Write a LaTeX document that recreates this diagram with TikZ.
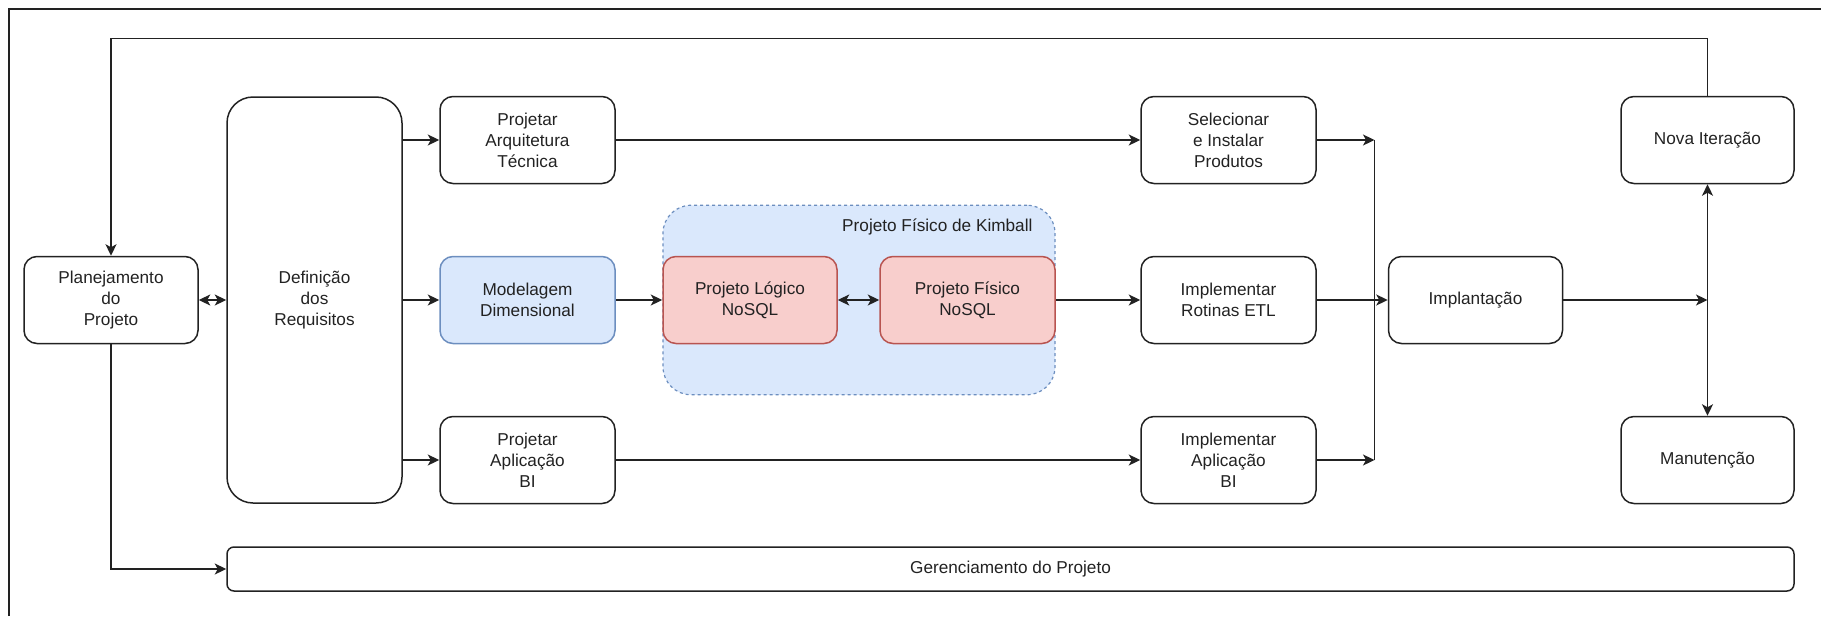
\documentclass[tikz,border=0pt]{standalone}
\usepackage{fontspec}
\setmainfont{Liberation Sans}
\usetikzlibrary{arrows.meta}
\definecolor{ink}{RGB}{34,34,34}
\definecolor{bluefill}{HTML}{DAE8FC}
\definecolor{bluedraw}{HTML}{6C8EBF}
\definecolor{redfill}{HTML}{F8CECC}
\definecolor{reddraw}{HTML}{B85450}

\begin{document}
\begin{tikzpicture}[x=1pt,y=-1pt,
  >={Stealth[length=11.5pt,width=11pt,inset=3pt]},
  lbl/.style={text=ink, font=\fontsize{17.2}{21}\selectfont},
  box/.style={lbl, draw=ink, line width=1.5pt, rounded corners=13pt,
    minimum width=175pt, minimum height=87pt, align=center, inner sep=0pt},
  bluebox/.style={box, fill=bluefill, draw=bluedraw},
  redbox/.style={box, fill=redfill, draw=reddraw},
  group/.style={draw=bluedraw, fill=bluefill, dashed, line width=1.2pt,
    rounded corners=28pt, minimum width=392pt, minimum height=189.5pt, inner sep=0pt},
  wire/.style={draw=ink, line width=1.4pt},
  arr/.style={wire, ->},
  dbl/.style={wire, <->}
]
\useasboundingbox (0,0) rectangle (1821,616);

% outer frame
\draw[ink, line width=1.2pt] (9,616) -- (9,9) -- (1821,9);

% Kimball physical design group
\node[group] (kimball) at (859,300) {};
\node[lbl, anchor=east] (kimballtitle) at (1036,227) {Projeto Físico de Kimball};

% process boxes
\node[box, minimum width=174pt] (plan) at (111,300) {Planejamento\\do\\Projeto};
\node[box, minimum height=406pt, rounded corners=26pt] (req) at (314.5,300) {Definição\\dos\\Requisitos};
\node[box] (arq) at (527.5,140) {Projetar\\Arquitetura\\Técnica};
\node[bluebox] (dim) at (527.5,300) {Modelagem\\Dimensional};
\node[box] (pbi) at (527.5,460) {Projetar\\Aplicação\\BI};
\node[redbox, minimum width=174pt] (logico) at (750,300) {Projeto Lógico\\NoSQL};
\node[redbox] (fisico) at (967.5,300) {Projeto Físico\\NoSQL};
\node[box] (sel) at (1228.5,140) {Selecionar\\e Instalar\\Produtos};
\node[box] (etl) at (1228.5,300) {Implementar\\Rotinas ETL};
\node[box] (ibi) at (1228.5,460) {Implementar\\Aplicação\\BI};
\node[box, minimum width=174pt] (impl) at (1475.5,300) {Implantação};
\node[box, minimum width=173pt] (nova) at (1707.5,140) {Nova Iteração};
\node[box, minimum width=173pt] (man) at (1707.5,460) {Manutenção};
\node[box, minimum width=1567pt, minimum height=44pt, rounded corners=7pt] (ger) at (1010.5,569) {Gerenciamento do Projeto};

% helper coordinates for the merge line and the return loop
\coordinate (merge) at (1374.5,0);
\coordinate (looptop) at (0,38.5);

% connectors
\draw[dbl] (plan) -- (req);
\draw[arr] (req.east |- arq) -- (arq);
\draw[arr] (req.east |- dim) -- (dim);
\draw[arr] (req.east |- pbi) -- (pbi);
\draw[arr] (arq) -- (sel);
\draw[arr] (dim) -- (logico);
\draw[dbl] (logico) -- (fisico);
\draw[arr] (fisico) -- (etl);
\draw[arr] (pbi) -- (ibi);
\draw[arr] (sel.east) -- (sel.east -| merge);
\draw[arr] (ibi.east) -- (ibi.east -| merge);
\draw[wire] (sel.east -| merge) -- (ibi.east -| merge);
\draw[arr] (etl) -- (impl);
\draw[arr] (impl.east) -- (impl.east -| nova.south);
\draw[dbl] (nova.south) -- (man.north);
\draw[arr] (nova.north) -- (nova.north |- looptop) -| (plan.north);
\draw[arr] (plan.south) |- (ger.west);
\end{tikzpicture}
\end{document}
